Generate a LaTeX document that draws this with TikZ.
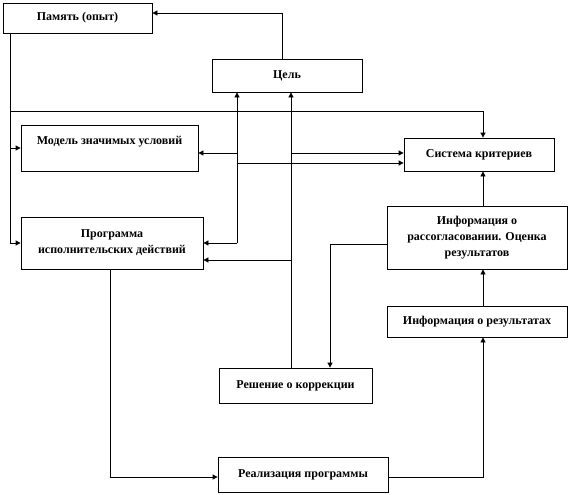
\documentclass[tikz,border=0pt]{standalone}
\usepackage{fontspec}
\setmainfont{Liberation Serif}
\usetikzlibrary{arrows.meta}

\begin{document}
\begin{tikzpicture}[x=1pt,y=-1pt,
	box/.style={draw,line width=0.8pt,rectangle,align=center,inner sep=2pt,
		font=\bfseries\fontsize{12}{16}\selectfont},
	arr/.style={line width=0.8pt,-{Triangle[length=5pt,width=5pt]}}]
	
	\useasboundingbox (0,0) rectangle (570,495);
	
	% blocks
	\node[box,minimum width=149pt,minimum height=30pt] (pam) at (77.5,18) {Память (опыт)};
	\node[box,minimum width=150pt,minimum height=33pt] (cel) at (287,75.5) {Цель};
	\node[box,minimum width=177pt,minimum height=46pt] (model) at (109.5,148) {Модель значимых условий\\ \phantom{X}};
	\node[box,minimum width=150pt,minimum height=33pt] (sys) at (479,154.5) {Система критериев};
	\node[box,minimum width=182pt,minimum height=52pt] (prog) at (112,243) {Программа\\ исполнительских действий};
	\node[box,minimum width=180pt,minimum height=63pt] (mis) at (477,237.5) {Информация о\\ рассогласовании. Оценка\\ результатов};
	\node[box,minimum width=180pt,minimum height=31pt] (res) at (477,321.5) {Информация о результатах};
	\node[box,minimum width=153pt,minimum height=35pt] (dec) at (295.5,385.5) {Решение о коррекции};
	\node[box,minimum width=170pt,minimum height=35pt] (real) at (303,474.5) {Реализация программы};
	
	% bend points
	\coordinate (jm) at (10,111);
	\coordinate (jl) at (237,243);
	\coordinate (jlM) at (237,153);
	\coordinate (jlS) at (237,163);
	\coordinate (jr) at (291,153);
	\coordinate (jrP) at (291,260);
	\coordinate (colR) at (483,0);
	\coordinate (colD) at (330,0);
	
	% goal back to memory
	\draw[arr] ([xshift=-5pt]cel.north) |- ([yshift=5pt]pam.east);
	
	% memory to model, program and criteria
	\draw[arr] (pam.south -| jm) |- (prog.west);
	\draw[arr] (jm |- model.west) -- (model.west);
	\draw[arr] (jm) -| (colR |- sys.north);
	
	% left junction
	\draw[arr] (jl) -- (jl |- cel.south);
	\draw[arr] (jl) -- (prog.east);
	\draw[arr] (jlM) -- (model.east |- jlM);
	\draw[arr] (jlS) -- (sys.west |- jlS);
	
	% decision on correction
	\draw[arr] (jr |- dec.north) -- (jr |- cel.south);
	\draw[arr] (jr) -- (sys.west |- jr);
	\draw[arr] (jrP) -- (prog.east |- jrP);
	\draw[arr] ([yshift=-6.5pt]mis.west) -| (colD |- dec.north);
	
	% realisation loop
	\draw[arr] ([xshift=-2pt]prog.south) |- ([yshift=-2.5pt]real.west);
	\draw[arr] ([yshift=-2.5pt]real.east) -| (colR |- res.south);
	\draw[arr] (colR |- res.north) -- (colR |- mis.south);
	\draw[arr] (colR |- mis.north) -- (colR |- sys.south);
	
\end{tikzpicture}
\end{document}
